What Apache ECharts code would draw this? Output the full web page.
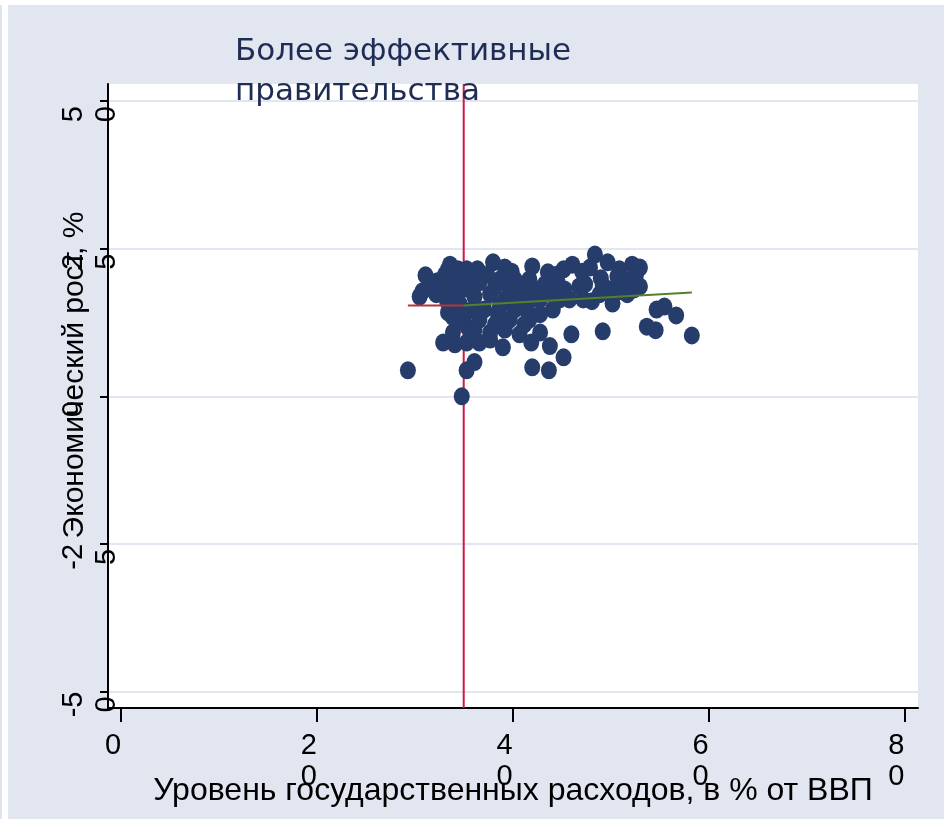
<!DOCTYPE html>
<html>
<head>
<meta charset="utf-8">
<title>Госрасходы и экономический рост</title>
<script src="https://cdn.jsdelivr.net/npm/echarts@6/dist/echarts.min.js"></script>
<style>
  html, body { margin: 0; padding: 0; background: #fff; }
  #main { width: 944px; height: 819px; }
</style>
</head>
<body>
<div id="main"></div>
<script>
// уровень госрасходов, % ВВП (ось X)
var govSpend = [
  29.3, 34.8, 35.3, 36.1, 32.9, 31.1, 30.8, 30.5, 33.4, 32.3,
  38.0, 37.7, 39.0, 41.9, 43.8, 42.0, 43.7, 45.2, 46.0, 49.2,
  48.4, 46.1, 49.7, 52.2, 53.0, 54.7, 55.5, 56.7, 58.3, 53.7,
  54.6, 42.0, 43.6, 44.1, 45.8, 48.1, 50.2, 51.7, 53.0, 50.7,
  46.8, 42.8, 33.9, 35.4, 35.3, 33.3, 33.4, 34.6, 49.0, 47.9,
  50.9, 49.2, 52.1, 47.4, 45.2, 44.6, 42.6, 45.3, 49.9, 51.4,
  34.1, 34.8, 35.6, 36.6, 37.4, 38.7, 39.7, 40.2, 41.2, 40.7,
  39.2, 37.7, 36.1, 34.6, 37.1, 38.5, 39.7, 40.2, 38.2, 36.6,
  35.9, 34.1, 33.0, 33.6, 35.3, 36.4, 39.2, 41.7, 43.3, 44.0,
  41.9, 41.4, 42.8, 41.2, 40.7, 39.2, 37.7, 36.1, 35.1, 33.9,
  33.1, 32.2, 31.7, 34.4, 35.6, 38.2, 39.9, 38.7, 40.2, 42.8,
  44.8, 44.5, 47.2, 48.9, 50.9, 52.6, 52.4, 47.1, 34.1, 36.6,
  41.7
];
// экономический рост, % (ось Y)
var growth = [
   4.4,  0.0,  4.4,  5.8,  9.1, 20.5, 17.8, 16.9, 21.5, 19.5,
  22.7,  9.6,  8.3,  9.1,  8.5,  4.9,  4.4,  6.6, 10.5, 11.0,
  24.0, 22.3, 22.7, 22.3, 21.8, 14.7, 15.2, 13.7, 10.3, 11.8,
  11.2, 22.0, 21.0, 14.7, 16.4, 16.1, 15.7, 17.3, 18.6, 20.3,
  18.6, 10.8, 10.8, 11.7,  9.1, 16.1, 14.2, 12.7, 20.0, 21.8,
  21.5, 18.8, 19.8, 19.0, 21.5, 19.3, 18.1, 18.1, 18.1, 19.0,
  19.8, 18.1, 20.1, 19.3, 20.6, 19.8, 18.1, 19.8, 18.1, 16.4,
  16.4, 17.3, 16.9, 15.6, 14.7, 13.9, 13.0, 14.7, 12.2, 13.0,
  14.7, 17.6, 18.4, 22.3, 21.5, 21.5, 21.8, 19.8, 19.0, 17.3,
  16.4, 14.7, 13.9, 12.2, 10.5, 11.3, 10.8, 11.3, 13.9, 13.4,
  20.6, 17.3, 19.0, 21.5, 18.1, 18.6, 21.1, 15.2, 17.3, 16.4,
  16.4, 20.6, 16.4, 17.3, 17.8, 20.6, 18.1, 21.1,  8.8,  9.1,
  13.0
];

var xTicks = [0, 20, 40, 60, 80];
var yTicks = [-50, -25, 0, 25, 50];
var xRange = [-1.33, 81.4];
var yRange = [-52.8, 52.9];

// пороговое значение и линии тренда по обе стороны от него
var cutX = 35;
var fitLeft = [[29.3, 15.4], [35, 15.4]];
var fitRight = [[35, 15.4], [58.3, 17.6]];

var points = govSpend.map(function (x, i) { return [x, growth[i]]; });

// метки как в исходнике: последняя цифра уходит на вторую строку
function splitLabel(v) {
  var s = String(v);
  if (s.length < 2) return s;
  return s.slice(0, -1) + '\n' + s.slice(-1);
}

var bg = '#e1e6f0';
var font = 'Liberation Sans, Arial, sans-serif';

var chart = echarts.init(document.getElementById('main'));
chart.setOption({
  backgroundColor: '#fff',
  animation: false,
  graphic: [
    { type: 'rect', z: -10, shape: { x: 8, y: 5, width: 936, height: 814 }, style: { fill: bg } },
    { type: 'rect', z: -10, shape: { x: 0, y: 5, width: 2, height: 814 }, style: { fill: '#dfe3ec' } }
  ],
  title: {
    text: 'Более эффективные\nправительства',
    left: 235,
    top: 32,
    padding: 0,
    textStyle: {
      fontFamily: 'DejaVu Sans, Verdana, sans-serif',
      fontSize: 31,
      fontWeight: 'normal',
      lineHeight: 40,
      color: '#1f2d54'
    }
  },
  grid: {
    left: 108, right: 26, top: 84, bottom: 111,
    outerBoundsMode: 'none',
    show: true, backgroundColor: '#fff', borderWidth: 0
  },
  xAxis: {
    type: 'value',
    min: xRange[0], max: xRange[1],
    name: 'Уровень государственных расходов, в % от ВВП',
    nameLocation: 'middle',
    nameGap: 67,
    nameMoveOverlap: false,
    nameTextStyle: { fontFamily: font, fontSize: 32, color: '#000' },
    axisLine: { onZero: false, lineStyle: { color: '#000', width: 2 } },
    axisTick: { customValues: xTicks, length: 14, lineStyle: { color: '#000', width: 2 } },
    axisLabel: {
      customValues: xTicks,
      formatter: splitLabel,
      fontFamily: font, fontSize: 29, lineHeight: 31, color: '#000',
      margin: 22, padding: [0, 16, 0, 0]
    },
    splitLine: { show: false }
  },
  yAxis: {
    type: 'value',
    min: yRange[0], max: yRange[1],
    name: 'Экономический рост, %',
    nameLocation: 'middle',
    nameRotate: 90,
    nameGap: 18,
    nameMoveOverlap: false,
    nameTextStyle: { fontFamily: font, fontSize: 30, color: '#000', padding: [0, 0, 0, 42] },
    axisLine: { onZero: false, lineStyle: { color: '#000', width: 2 } },
    axisTick: { customValues: yTicks, length: 8, lineStyle: { color: '#000', width: 2 } },
    axisLabel: {
      customValues: yTicks,
      formatter: splitLabel,
      rotate: 90,
      align: 'center',
      verticalAlign: 'top',
      fontFamily: font, fontSize: 29, lineHeight: 33, color: '#000',
      margin: 51, padding: [0, 26, 0, 0]
    },
    splitLine: { show: true, lineStyle: { color: bg, width: 2 } }
  },
  series: [
    {
      type: 'line', z: 1, symbol: 'none', silent: true,
      data: [[cutX, yRange[0]], [cutX, yRange[1]]],
      lineStyle: { color: '#d01846', width: 2 }
    },
    {
      type: 'scatter', z: 2,
      symbol: 'circle', symbolSize: [16, 18],
      data: points,
      itemStyle: { color: '#263d6b', opacity: 1 }
    },
    {
      type: 'line', z: 3, symbol: 'none', silent: true,
      data: fitLeft,
      lineStyle: { color: '#b03838', width: 2 }
    },
    {
      type: 'line', z: 3, symbol: 'none', silent: true,
      data: fitRight,
      lineStyle: { color: '#55802a', width: 2 }
    }
  ]
});
</script>
</body>
</html>
